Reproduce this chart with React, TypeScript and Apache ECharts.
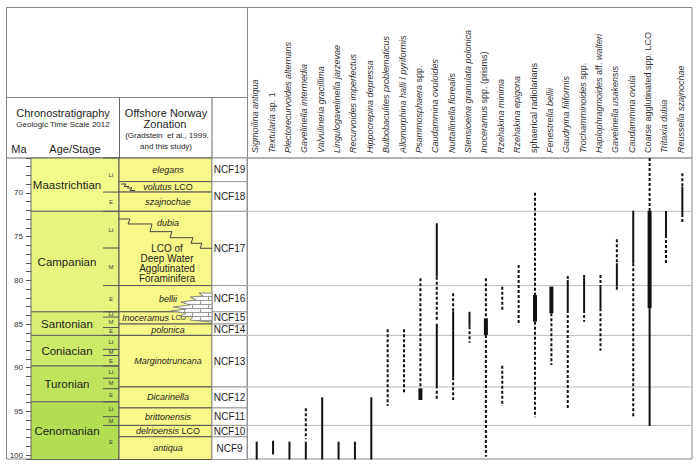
import React, { useEffect, useRef } from 'react';
import * as echarts from 'echarts';

const FONT = 'Arial, "Liberation Sans", Helvetica, sans-serif';

// ---------- data ----------
const species = [
  'Sigmoilina antiqua',
  'Textularia sp. 1',
  'Plectorecurvoides alternans',
  'Gavelinella intermedia',
  'Valvulineria gracillima',
  'Lingulogavelinella jarzevae',
  'Recurvoides imperfectus',
  'Hippocrepina depressa',
  'Bulbobaculites problematicus',
  'Allomorphina halli / pyriformis',
  'Psammosphaera spp.',
  'Caudammina ovuloides',
  'Nuttallinella florealis',
  'Stensioeina granulata polonica',
  'Inoceramus spp. (prisms)',
  'Rzehakina minima',
  'Rzehakina epigona',
  'sphaerical radiolarians',
  'Fenestrella bellii',
  'Gaudryina filiformis',
  'Trochamminoides spp.',
  'Haplophragmoides aff. walteri',
  'Gavelinella usakensis',
  'Caudammina ovula',
  'Coarse agglutinated spp. LCO',
  'Tritaxia dubia',
  'Reussella szajnochae',
];
const nonItalicSpecies = ['sphaerical radiolarians', 'Coarse agglutinated spp. LCO'];
const plainWords = ['sp.', 'spp.', '1', 'aff.', '(prisms)', 'LCO', '/'];

// [species index, top Ma, base Ma]
const commonRanges = [
  [0, 98.46, 100.5], [1, 98.35, 99.92], [2, 98.46, 100.5], [3, 98.46, 100.5],
  [4, 93.38, 100.5], [5, 98.46, 100.5], [6, 98.46, 100.5], [7, 93.38, 100.5],
  [11, 73.47, 79.58], [11, 84.96, 92.35], [12, 83.55, 91.1], [13, 83.6, 85.25],
  [19, 79.96, 83.39], [20, 79.65, 83.39], [21, 80.72, 83.2], [22, 78.05, 80.72],
  [23, 72.03, 78.05], [24, 83.2, 96.67], [25, 72.06, 74.81], [26, 69.28, 72.41],
];
const abundantRanges = [
  [10, 92.35, 93.69], [14, 84.34, 86.25], [17, 81.68, 84.73], [18, 80.72, 83.77], [24, 72.06, 83.2],
];
const rareRanges = [
  [3, 94.64, 98.19], [8, 85.6, 94.38], [9, 85.6, 93.0], [10, 79.77, 92.17],
  [11, 79.58, 84.73], [11, 92.63, 93.69], [12, 81.48, 83.55], [12, 91.1, 93.69],
  [13, 85.25, 87.13], [14, 79.77, 84.34], [14, 86.25, 100.18], [15, 80.72, 83.59],
  [15, 89.77, 94.38], [16, 78.24, 84.92], [17, 69.97, 81.68], [17, 84.73, 95.67],
  [18, 83.77, 89.69], [19, 79.5, 79.96], [19, 83.39, 94.64], [20, 79.39, 79.65],
  [20, 83.39, 84.73], [21, 79.39, 80.72], [21, 83.2, 88.05], [22, 75.3, 78.05],
  [22, 80.72, 81.3], [23, 78.05, 95.67], [24, 66.0, 72.06], [25, 74.81, 78.05],
  [26, 67.75, 69.28], [26, 72.41, 73.47],
];

const stageNames = ['Maastrichtian', 'Campanian', 'Santonian', 'Coniacian', 'Turonian', 'Cenomanian'];
const stageBounds = [66, 72.1, 83.6, 86.3, 89.8, 93.9, 100.5];

const substageLabels = ['Lt', 'E', 'Lt', 'M', 'E', 'Lt', 'M', 'E', 'Lt', 'M', 'E', 'Lt', 'M', 'E', 'Lt', 'M', 'E'];
const substageBounds = [66, 69.9, 72.1, 76.3, 80.6, 83.6, 84.2, 85.4, 86.3, 87.9, 88.6, 89.8, 91.2, 92.4, 93.9, 95.6, 96.6, 100.5];

const zoneNames = [
  '{i|elegans}', '{i|volutus} {n|LCO}', '{i|szajnochae}', '{i|dubia}', '{i|bellii}',
  '{i|Inoceramus} {s|LCO}', '{i|polonica}', '{i|Marginotruncana}', '{i|Dicarinella}',
  '{i|brittonensis}', '{i|delrioensis} {n|LCO}', '{i|antiqua}',
];
const zoneBounds = [66, 68.7, 69.9, 72.1, 80.6, 83.6, 85.0, 86.3, 92.2, 94.6, 96.6, 97.9, 100.5];
const lcoBlockText = 'LCO of\nDeep Water\nAgglutinated\nForaminifera';
const lcoBlockMa = 78.1;
const dubiaLabelMa = 73.4;

const ncfNames = ['NCF19', 'NCF18', 'NCF17', 'NCF16', 'NCF15', 'NCF14', 'NCF13', 'NCF12', 'NCF11', 'NCF10', 'NCF9'];
const ncfBounds = [66, 68.7, 72.1, 80.6, 83.6, 85.0, 86.3, 92.2, 94.6, 96.6, 97.9, 100.5];

const guideLines = [72.1, 80.6, 86.3, 92.2, 96.6];

// decorative symbols, in (column offset, Ma)
const dubiaFaultLine = [
  [88, 72.98], [99, 72.98], [97, 73.55], [121, 73.55], [119, 74.43], [141, 74.43],
  [139, 75.12], [162, 75.12], [160, 75.76], [171, 75.76], [169, 76.33], [181, 76.33],
];
const volutusZigzagA = [[90, 68.98], [95, 68.98], [93, 69.26], [98, 69.26]];
const volutusZigzagB = [[96, 69.43], [101, 69.43], [99, 69.72], [104, 69.72]];
const brickOutline = [
  [181, 81.45], [168, 81.45], [172, 81.79], [159, 81.91], [165, 82.25], [150, 82.48],
  [159, 82.82], [142, 83.05], [155, 83.28], [140, 83.51], [155, 83.74], [149, 84.08],
  [162, 84.19], [159, 84.54], [169, 84.65], [181, 84.77],
];

// ---------- layout / style ----------
const stageColors = ['#F2FA8C', '#E6F47F', '#D9EF74', '#CCE968', '#BFE35D', '#B3DE53'];
const ZONE_FILL = '#F7F78A';
const COL_STAGE = [0, 72];
const COL_SUB = [72, 88];
const COL_ZONE = [88, 181];
const COL_NCF = [181, 216];
const ZONE_LABEL_X = 137;
const INOC_LABEL_X = 123;

function fmtSpecies(name: string) {
  if (nonItalicSpecies.includes(name)) return `{n|${name}}`;
  return name
    .split(' ')
    .map((w) => (plainWords.includes(w) ? `{n|${w}}` : `{i|${w}}`))
    .join('{n| }');
}

export default function App() {
  const ref = useRef<HTMLDivElement>(null);
  useEffect(() => {
    document.body.style.margin = '0';
    const chart = echarts.init(ref.current!, null, { renderer: 'svg' });

    const cv = document.createElement('canvas');
    cv.width = 16;
    cv.height = 8;
    const ctx = cv.getContext('2d')!;
    ctx.fillStyle = '#f8f8f8';
    ctx.fillRect(0, 0, 16, 8);
    ctx.strokeStyle = '#9a9a9a';
    ctx.lineWidth = 1;
    ctx.beginPath();
    ctx.moveTo(0, 0.5); ctx.lineTo(16, 0.5);
    ctx.moveTo(0, 4.5); ctx.lineTo(16, 4.5);
    ctx.moveTo(0.5, 0); ctx.lineTo(0.5, 4.5);
    ctx.moveTo(8.5, 4.5); ctx.lineTo(8.5, 8);
    ctx.stroke();
    const brickFill: any = { image: cv, repeat: 'repeat' };

    const txt = (x: number, y: number, text: string, size: number, extra: any = {}) => ({
      type: 'text',
      x,
      y,
      style: {
        text,
        fontSize: size,
        fontFamily: FONT,
        fill: '#1e1e1e',
        align: 'center',
        verticalAlign: 'middle',
        ...extra,
      },
    });
    const gline = (x1: number, y1: number, x2: number, y2: number, stroke = '#888') => ({
      type: 'line',
      shape: { x1, y1, x2, y2 },
      style: { stroke, lineWidth: 1 },
    });

    const zoneRich = {
      i: { fontStyle: 'italic', fontSize: 9, fontFamily: FONT, fill: '#1e1e1e' },
      n: { fontSize: 9, fontFamily: FONT, fill: '#1e1e1e' },
      s: { fontSize: 7, fontFamily: FONT, fill: '#1e1e1e' },
    };
    const speciesRich = {
      i: { fontStyle: 'italic', fontSize: 9, fontFamily: FONT, fill: '#333' },
      n: { fontSize: 9, fontFamily: FONT, fill: '#333' },
    };

    const barSeries = (ranges: number[][], kind: string) => ({
      type: 'custom',
      xAxisIndex: 1,
      yAxisIndex: 1,
      data: ranges,
      z: 5,
      renderItem: (_p: any, api: any) => {
        const a = api.coord([api.value(0), api.value(1)]);
        const b = api.coord([api.value(0), api.value(2)]);
        if (kind === 'rare') {
          return {
            type: 'line',
            shape: { x1: a[0], y1: a[1], x2: b[0], y2: b[1] },
            style: { stroke: '#111', lineWidth: 2, lineDash: [3, 2] },
          };
        }
        const w = kind === 'abundant' ? 4 : 2;
        return {
          type: 'rect',
          shape: { x: a[0] - w / 2, y: a[1], width: w, height: b[1] - a[1] },
          style: { fill: '#111' },
        };
      },
    });

    const polyFrom = (api: any, pts: number[][]) => pts.map((p) => api.coord(p));

    const option: any = {
      animation: false,
      backgroundColor: '#fff',
      grid: [
        { left: 31, width: 216, top: 158, height: 301.5 },
        { left: 247, width: 445, top: 158, height: 301.5 },
      ],
      xAxis: [
        { gridIndex: 0, type: 'value', min: 0, max: 216, show: false },
        { gridIndex: 1, type: 'value', min: -0.593, max: 26.59, show: false },
      ],
      yAxis: [
        {
          gridIndex: 0,
          type: 'value',
          inverse: true,
          min: 66,
          max: 100.5,
          interval: 1,
          position: 'left',
          axisLine: { show: true, lineStyle: { color: '#555', width: 1 } },
          axisTick: { show: true, length: 5, lineStyle: { color: '#555' } },
          axisLabel: {
            formatter: (v: number) => (v % 5 === 0 ? String(v) : ''),
            fontSize: 8,
            fontFamily: FONT,
            color: '#333',
            margin: 8,
          },
          splitLine: { show: false },
        },
        { gridIndex: 1, type: 'value', inverse: true, min: 66, max: 100.5, show: false },
      ],
      graphic: [
        {
          type: 'rect',
          shape: { x: 6.5, y: 7.5, width: 685.5, height: 451.5 },
          style: { fill: 'none', stroke: '#888', lineWidth: 1 },
        },
        gline(6.5, 97.5, 247.5, 97.5),
        gline(6.5, 158, 692, 158, '#666'),
        gline(247.5, 7.5, 247.5, 459),
        gline(119.5, 97.5, 119.5, 158, '#666'),
        gline(212, 97.5, 212, 158, '#666'),
        txt(63, 113, 'Chronostratigraphy', 11),
        txt(63, 124.5, 'Geologic Time Scale 2012', 8),
        txt(19, 148.5, 'Ma', 11),
        txt(75, 148.5, 'Age/Stage', 11),
        txt(166, 113, 'Offshore Norway', 11),
        txt(165, 123.5, 'Zonation', 11),
        txt(167, 135, '(Gradstein  et al., 1999,', 8),
        txt(166, 146, 'and this study)', 8),
      ],
      series: [
        // stages
        {
          type: 'custom',
          xAxisIndex: 0,
          yAxisIndex: 0,
          data: stageNames.map((_, k) => [k, stageBounds[k], stageBounds[k + 1]]),
          renderItem: (_p: any, api: any) => {
            const k = api.value(0);
            const top = api.value(1);
            const base = api.value(2);
            const a = api.coord([COL_STAGE[0], top]);
            const b = api.coord([COL_SUB[1], base]);
            const c = api.coord([(COL_STAGE[0] + COL_STAGE[1]) / 2, (top + base) / 2]);
            return {
              type: 'group',
              children: [
                {
                  type: 'rect',
                  shape: { x: a[0], y: a[1], width: b[0] - a[0], height: b[1] - a[1] },
                  style: { fill: stageColors[k], stroke: '#666', lineWidth: 1 },
                },
                txt(c[0], c[1], stageNames[k], 11.5),
              ],
            };
          },
        },
        // substages
        {
          type: 'custom',
          xAxisIndex: 0,
          yAxisIndex: 0,
          data: substageLabels.map((_, k) => [k, substageBounds[k], substageBounds[k + 1]]),
          renderItem: (_p: any, api: any) => {
            const k = api.value(0);
            const top = api.value(1);
            const base = api.value(2);
            const a = api.coord([COL_SUB[0], top]);
            const b = api.coord([COL_SUB[1], top]);
            const c = api.coord([(COL_SUB[0] + COL_SUB[1]) / 2, (top + base) / 2]);
            return {
              type: 'group',
              children: [
                { type: 'line', shape: { x1: a[0], y1: a[1], x2: b[0], y2: b[1] }, style: { stroke: '#555', lineWidth: 1 } },
                txt(c[0], c[1], substageLabels[k], 6, { fill: '#444' }),
              ],
            };
          },
        },
        // zones
        {
          type: 'custom',
          xAxisIndex: 0,
          yAxisIndex: 0,
          data: zoneNames.map((_, k) => [k, zoneBounds[k], zoneBounds[k + 1]]),
          renderItem: (_p: any, api: any) => {
            const k = api.value(0);
            const top = api.value(1);
            const base = api.value(2);
            const a = api.coord([COL_ZONE[0], top]);
            const b = api.coord([COL_ZONE[1], base]);
            const lx = zoneNames[k].includes('Inoceramus') ? INOC_LABEL_X : ZONE_LABEL_X;
            const isNcf17 = top === 72.1;
            const c = api.coord([lx, isNcf17 ? dubiaLabelMa : (top + base) / 2]);
            const children: any[] = [
              {
                type: 'rect',
                shape: { x: a[0], y: a[1], width: b[0] - a[0], height: b[1] - a[1] },
                style: { fill: ZONE_FILL, stroke: '#555', lineWidth: 1 },
              },
              txt(c[0], c[1], zoneNames[k], 9, { rich: zoneRich }),
            ];
            if (isNcf17) {
              const d = api.coord([ZONE_LABEL_X - 1, lcoBlockMa]);
              children.push(txt(d[0], d[1], lcoBlockText, 10, { lineHeight: 10 }));
            }
            return { type: 'group', children };
          },
        },
        // NCF zones
        {
          type: 'custom',
          xAxisIndex: 0,
          yAxisIndex: 0,
          data: ncfNames.map((_, k) => [k, ncfBounds[k], ncfBounds[k + 1]]),
          renderItem: (_p: any, api: any) => {
            const k = api.value(0);
            const top = api.value(1);
            const base = api.value(2);
            const a = api.coord([COL_NCF[0], top]);
            const b = api.coord([COL_NCF[1], base]);
            const c = api.coord([(COL_NCF[0] + COL_NCF[1]) / 2, (top + base) / 2]);
            return {
              type: 'group',
              children: [
                {
                  type: 'rect',
                  shape: { x: a[0], y: a[1], width: b[0] - a[0], height: b[1] - a[1] },
                  style: { fill: '#fff', stroke: '#999', lineWidth: 1 },
                },
                txt(c[0], c[1], ncfNames[k], 10),
              ],
            };
          },
        },
        // decorative symbols
        {
          type: 'custom',
          xAxisIndex: 0,
          yAxisIndex: 0,
          data: [[0, 66]],
          z: 4,
          renderItem: (_p: any, api: any) => ({
            type: 'group',
            children: [
              {
                type: 'polygon',
                shape: { points: polyFrom(api, brickOutline) },
                style: { fill: brickFill, stroke: '#777', lineWidth: 0.8 },
              },
              { type: 'polyline', shape: { points: polyFrom(api, dubiaFaultLine) }, style: { stroke: '#444', lineWidth: 1, fill: 'none' } },
              { type: 'polyline', shape: { points: polyFrom(api, volutusZigzagA) }, style: { stroke: '#444', lineWidth: 1, fill: 'none' } },
              { type: 'polyline', shape: { points: polyFrom(api, volutusZigzagB) }, style: { stroke: '#444', lineWidth: 1, fill: 'none' } },
            ],
          }),
        },
        // guide lines in data area
        {
          type: 'custom',
          xAxisIndex: 1,
          yAxisIndex: 1,
          data: guideLines.map((m) => [0, m]),
          renderItem: (_p: any, api: any) => {
            const a = api.coord([-0.593, api.value(1)]);
            const b = api.coord([26.59, api.value(1)]);
            return {
              type: 'line',
              shape: { x1: a[0], y1: a[1], x2: b[0], y2: b[1] },
              style: { stroke: '#bdbdbd', lineWidth: 1 },
            };
          },
        },
        // species names
        {
          type: 'custom',
          xAxisIndex: 1,
          yAxisIndex: 1,
          data: species.map((_, k) => [k, 66]),
          renderItem: (_p: any, api: any) => {
            const k = api.value(0);
            const p = api.coord([k, 66]);
            return {
              type: 'text',
              x: p[0] - 1.5,
              y: p[1] - 5,
              rotation: Math.PI / 2,
              style: {
                text: fmtSpecies(species[k]),
                rich: speciesRich,
                fontSize: 9,
                fontFamily: FONT,
                fill: '#333',
                align: 'left',
                verticalAlign: 'middle',
              },
            };
          },
        },
        barSeries(rareRanges, 'rare'),
        barSeries(commonRanges, 'common'),
        barSeries(abundantRanges, 'abundant'),
      ],
    };

    chart.setOption(option);
    return () => chart.dispose();
  }, []);

  return <div ref={ref} style={{ position: 'absolute', left: 0, top: 0, width: 700, height: 464 }} />;
}
